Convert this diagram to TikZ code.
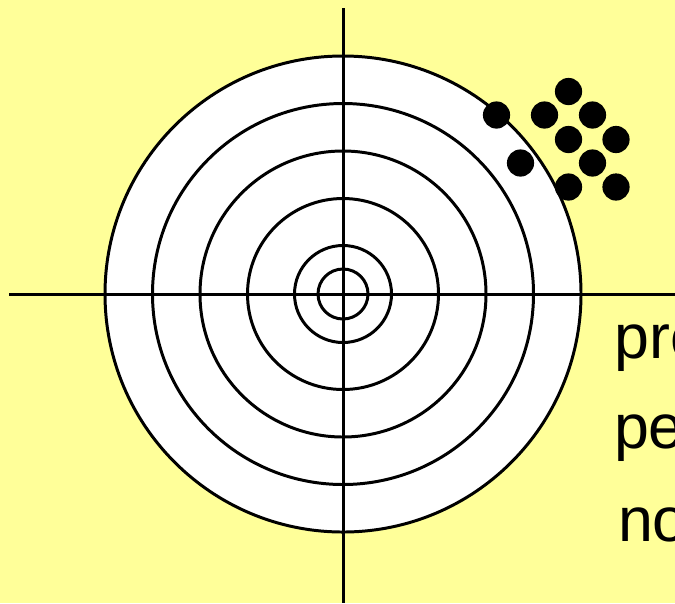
\documentclass[tikz,border=0pt]{standalone}
\usepackage{fontspec}
\setmainfont{Liberation Sans}
\definecolor{bgyellow}{HTML}{FFFF99}
\begin{document}
\begin{tikzpicture}[x=0.02cm, y=-0.02cm, line width=1.7pt,
    ring/.style={draw=black, fill=white},
    shot/.style={fill=black},
    every node/.style={font=\fontsize{35.7pt}{43pt}\selectfont, inner sep=0pt, anchor=base west}]
    % 1. 背景
    \fill[bgyellow] (0,0) rectangle (675,603);
    \clip (0,0) rectangle (675,603);
    \coordinate (c) at (343,294);

    % 2. 靶环
    \foreach \r in {238,190.5,143,95.5,48.5,25}
        \draw[ring] (c) circle (\r);

    % 3. 十字线
    \draw (343,8) -- (343,603);
    \draw (9,294) -- (675,294);

    % 4. 弹孔
    \foreach \p in {(496.5,115),(544.5,115),(568.5,91.5),(592.5,115),(568.5,139.5),(616,139.5),(520.5,163),(592.5,163),(568.5,187),(616,187)}
        \fill[shot] \p circle (13.6);

    % 5. 文字
    \node (lineA) at (612.8,358) {pro};
    \node (lineB) at (612.5,448.5) {pe};
    \node (lineC) at (616.5,541.5) {no};
\end{tikzpicture}
\end{document}
